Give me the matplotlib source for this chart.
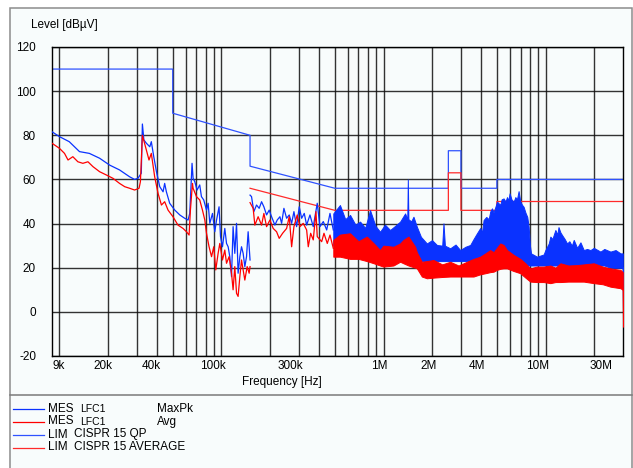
import matplotlib
matplotlib.use("Agg")
import numpy as np
import matplotlib.pyplot as plt
from matplotlib.lines import Line2D
from matplotlib.patches import Rectangle
from matplotlib.ticker import FixedLocator, NullFormatter, NullLocator

plt.rcParams['font.family'] = ['Liberation Sans', 'DejaVu Sans']
plt.rcParams['axes.unicode_minus'] = False

# ---- data (frequencies in kHz, levels in dBuV) ----
# MaxPk, range 1 (9k - 150k)
pk1_khz = [9.0, 10.0, 11.5, 13.3, 15.3, 17.7, 20.4, 23.5, 27.1, 29.1,
           30.5, 32.0, 32.5, 33.2, 34.4, 36.1, 36.9, 38.2, 39.7, 41.6,
           43.6, 44.6, 45.7, 47.9, 51.5, 55.3, 59.3, 62.2, 63.7, 65.8,
           66.8, 68.4, 70.7, 73.4, 75.2, 77.7, 80.8, 82.7, 84.7, 88.0,
           90.9, 93.2, 96.6, 98.6, 101.4, 104.8, 107.4, 109.9, 112.5, 115.3,
           117.9, 120.8, 123.8, 126.6, 129.8, 132.9, 136.0, 139.3, 142.7, 146.0,
           150.0]
pk1_db = [81.6, 79.4, 77.1, 72.6, 71.8, 69.6, 66.5, 64.3, 61.2, 60.0,
          60.5, 62.8, 85.1, 77.9, 76.4, 74.8, 77.1, 70.3, 63.5, 56.7,
          54.4, 58.2, 54.4, 49.2, 46.1, 43.9, 42.4, 41.6, 44.6, 67.3,
          60.5, 59.0, 55.2, 57.5, 52.2, 50.7, 46.1, 49.2, 40.1, 44.6,
          36.3, 41.6, 47.6, 34.1, 29.5, 37.8, 31.0, 29.5, 25.0, 16.0,
          38.6, 26.5, 40.1, 17.5, 25.0, 29.5, 26.5, 20.5, 25.0, 36.3,
          23.5]

# Avg, range 1
av1_khz = [9.0, 10.0, 10.75, 11.3, 12.1, 13.0, 13.95, 15.0, 16.1, 17.7,
           19.5, 21.4, 23.5, 25.3, 27.1, 29.1, 31.0, 31.6, 32.5, 34.4,
           35.7, 36.9, 38.7, 40.6, 42.6, 44.6, 46.8, 50.2, 53.9, 57.9,
           60.8, 63.1, 64.3, 66.2, 66.8, 70.1, 73.4, 76.3, 78.9, 80.8,
           83.8, 86.8, 89.6, 92.2, 95.3, 97.6, 101.4, 104.8, 107.4, 111.4,
           115.3, 117.9, 120.8, 123.8, 126.6, 129.8, 132.9, 136.0, 139.3, 144.0,
           148.1, 150.0]
av1_db = [76.4, 74.1, 71.8, 68.8, 70.3, 68.0, 67.3, 68.0, 65.8, 63.5,
          62.0, 60.5, 58.2, 56.7, 56.0, 55.2, 56.0, 59.0, 80.0, 73.3,
          68.8, 71.8, 61.2, 53.7, 48.4, 49.9, 46.1, 43.1, 39.3, 37.8,
          36.3, 34.8, 46.1, 58.2, 56.0, 52.2, 50.7, 46.1, 41.6, 35.6,
          29.5, 25.0, 29.5, 19.0, 26.5, 31.0, 23.5, 28.0, 22.0, 25.0,
          17.5, 10.0, 20.5, 8.4, 7.0, 16.0, 23.5, 19.0, 14.4, 20.5,
          17.5, 20.5]

# range 2 (150k - 490k), still readable as a line
pk2_khz = [150, 153.2, 158.3, 164.5, 170.8, 176.7, 182.6, 189.7, 196.9, 203.7,
           213.5, 220.6, 229.3, 234.9, 242.7, 252.2, 261.7, 270.8, 279.8, 290.7,
           301.7, 312.2, 324.0, 335.2, 351.3, 368.2, 389.7, 405.0, 424.6, 445.6,
           467.0, 489.5]
pk2_db = [52.9, 52.2, 45.4, 48.4, 46.9, 49.9, 47.6, 43.9, 46.1, 43.1,
          39.3, 41.6, 43.1, 40.1, 46.9, 42.4, 43.9, 40.1, 45.4, 38.6,
          47.6, 42.4, 44.6, 39.3, 43.9, 38.6, 49.2, 38.6, 40.9, 37.1,
          44.6, 37.1]
av2_khz = [150, 156.8, 160.6, 168.3, 176.7, 182.6, 189.7, 198.9, 208.4, 218.7,
           227.0, 238.2, 252.2, 261.7, 270.8, 279.8, 293.2, 304.7, 319.4, 335.2,
           343.0, 354.8, 368.2, 382.6, 389.7, 415.0, 428.8, 449.4, 467.0, 489.5]
av2_db = [49.5, 46.9, 39.3, 43.1, 39.3, 44.6, 38.6, 41.6, 37.8, 36.3,
          33.3, 35.6, 37.8, 43.1, 29.5, 38.6, 43.9, 38.6, 40.1, 37.1,
          29.5, 35.6, 32.6, 45.4, 34.1, 31.8, 35.6, 31.0, 34.8, 28.8]

# dense part (490k - 30M), read as upper / lower envelope
pkb_khz = [489.5, 538, 580, 621, 670, 716, 770, 825, 890, 951,
           1020, 1097, 1180, 1265, 1358, 1400, 1411, 1423, 1480, 1529,
           1604, 1700, 1849, 1990, 2133, 2300, 2342, 2390, 2576, 2780,
           2970, 3200, 3424, 3589, 3767, 3948, 4050, 4139, 4300, 4450,
           4552, 4664, 4771, 5008, 5248, 5350, 5501, 5650, 5774, 5880,
           5992, 6150, 6343, 6500, 6650, 6808, 6975, 7150, 7311, 7500,
           7700, 7851, 8000, 8123, 8847, 9718, 9956, 10450, 10690, 11000,
           11480, 11800, 12000, 12330, 12700, 13100, 13560, 14000, 14500, 14900,
           15640, 16390, 17180, 18000, 18890, 19810, 21780, 23000, 25110, 27000,
           28950, 29900, 30000]
pkb_hi = [44.6, 48.4, 42.0, 43.9, 39.5, 40.9, 38.0, 46.1, 39.0, 36.3,
          39.5, 37.1, 39.0, 40.9, 44.6, 42.0, 60.0, 42.0, 41.0, 43.1,
          38.6, 34.0, 31.0, 32.5, 30.3, 30.0, 40.1, 30.0, 28.8, 30.5,
          28.0, 29.5, 30.3, 33.0, 35.6, 38.0, 36.0, 41.6, 43.0, 42.0,
          45.5, 46.9, 45.0, 49.9, 48.5, 51.0, 51.4, 50.0, 52.0, 50.5,
          53.7, 51.0, 49.9, 52.0, 51.0, 54.7, 50.0, 48.5, 47.6, 45.0,
          43.0, 38.6, 30.0, 26.5, 25.0, 26.0, 28.0, 31.0, 34.1, 33.0,
          37.1, 35.0, 38.4, 36.0, 34.5, 33.0, 31.0, 32.0, 30.0, 32.6,
          29.0, 31.5, 28.0, 28.5, 28.0, 29.0, 27.3, 28.5, 27.3, 28.0,
          26.5, 26.5, -0.7]
pkb_lo = [30, 31, 31, 30, 30, 29, 29, 29, 28, 27,
          27, 27, 27, 27, 27, 26, 26, 26, 25, 24,
          24, 23, 23, 23, 23, 23, 23, 23, 23, 23,
          23, 23, 23, 24, 24, 24, 24, 24, 24, 25,
          25, 25, 25, 26, 26, 25, 25, 25, 25, 25,
          25, 24, 24, 24, 23, 23, 23, 22, 22, 22,
          21, 21, 21, 21, 21, 21, 21, 21, 21, 21,
          21, 21, 21, 21, 21, 21, 21, 21, 21, 21,
          21, 21, 21, 21, 21, 21, 21, 21, 20, 20,
          20, 20, -0.7]
avb_khz = [489.5, 538, 621, 700, 788, 870, 951, 997, 1150, 1265,
           1326, 1423, 1566, 1604, 1722, 1849, 2032, 2300, 2576, 2900,
           3268, 3589, 3948, 4250, 4552, 4771, 5000, 5248, 5501, 5774,
           6343, 6975, 7500, 8043, 8800, 9718, 10690, 11500, 12330, 13800,
           15640, 17180, 19810, 22500, 25110, 28950, 29900, 30000]
avb_hi = [32.6, 35.0, 35.6, 32.0, 34.1, 31.0, 28.0, 30.0, 29.5, 31.0,
          32.6, 34.1, 29.5, 27.0, 22.7, 23.0, 23.5, 21.5, 22.7, 21.0,
          22.7, 24.0, 25.0, 26.5, 28.0, 27.0, 29.0, 31.0, 30.3, 28.0,
          25.8, 24.0, 22.0, 19.7, 20.5, 20.5, 21.0, 20.0, 22.0, 21.0,
          21.2, 21.5, 22.0, 20.5, 19.7, 19.0, 18.0, -6.7]
avb_lo = [25, 25, 24, 24, 23, 22, 21, 20.5, 21, 22.7,
          22, 21, 20, 19.7, 16, 15.2, 15.5, 15.8, 16.0, 16,
          16, 16, 17, 17.5, 18, 18.2, 19, 19.5, 19.7, 19.7,
          18.5, 17.5, 15.5, 13.7, 13.5, 13.5, 13, 13.5, 13.5, 13.7,
          13.7, 13.7, 13, 12.5, 11.4, 10.7, 10, -6.7]

# limit lines CISPR 15
qp_khz = [9, 50, 50, 150, 150, 500, 2510, 2510, 3000, 3000, 5000, 5000, 30000]
qp_db = [110, 110, 90, 80, 66, 56, 56, 73, 73, 56, 56, 60, 60]
avl_khz = [150, 500, 2510, 2510, 3000, 3000, 5000, 5000, 30000]
avl_db = [56, 46, 46, 63, 63, 46, 46, 50, 50]

xtick_khz = [9, 20, 40, 100, 300, 1000, 2000, 4000, 10000, 30000]
xtick_lbl = ['9k', '20k', '40k', '100k', '300k', '1M', '2M', '4M', '10M', '30M']

BLUE = '#0a32ff'
RED = '#ff0000'
LBLUE = '#2f52ff'
LRED = '#ff2a2a'
BG = '#f8fcfc'
GRID = '#101010'

W, H = 633, 468
def fx(px):
    return px / W
def fy(py):
    return 1 - py / H

fig = plt.figure(figsize=(6.33, 4.68), dpi=100, facecolor='white')
fig.add_artist(Rectangle((fx(10), fy(480)), fx(632) - fx(10), fy(8) - fy(480),
                         transform=fig.transFigure, facecolor=BG,
                         edgecolor='#8c8c8c', lw=1.1, zorder=-5))
fig.add_artist(Line2D([fx(10), fx(632)], [fy(395), fy(395)],
                      transform=fig.transFigure, color='#7a7a7a', lw=1.1))

ax = fig.add_axes([fx(52), fy(356), fx(623) - fx(52), fy(47) - fy(356)])
ax.set_facecolor(BG)
ax.set_xscale('log')
ax.set_xlim(9e3, 30e6)
ax.set_ylim(-20, 120)

# grid
grid_f = [m * 10 ** e for e in (4, 5, 6, 7) for m in range(1, 10) if 9e3 < m * 10 ** e < 30e6]
ax.xaxis.set_major_locator(FixedLocator(grid_f))
ax.xaxis.set_major_formatter(NullFormatter())
ax.xaxis.set_minor_locator(NullLocator())
ax.set_yticks(range(-20, 121, 20))
ax.tick_params(axis='both', length=0, labelsize=8.5)
ax.tick_params(axis='y', pad=11.5)
ax.grid(True, color=GRID, lw=1.0, alpha=0.85, zorder=1)
ax.set_axisbelow(True)
for s in ax.spines.values():
    s.set_color('black')
    s.set_linewidth(1.0)

for f, lbl in zip(xtick_khz, xtick_lbl):
    if lbl == '9k':
        ha, dx = 'left', 0
    elif lbl == '30M':
        ha, dx = 'right', -10
    else:
        ha, dx = 'right', 4
    ax.annotate(lbl, xy=(f * 1e3, 0), xycoords=('data', 'axes fraction'),
                xytext=(dx, -10), textcoords='offset pixels', ha=ha, va='center',
                fontsize=8.5, annotation_clip=False)

# limits
ax.plot(np.array(qp_khz) * 1e3, qp_db, color=LBLUE, lw=0.9, zorder=2)
ax.plot(np.array(avl_khz) * 1e3, avl_db, color=LRED, lw=0.9, zorder=2)

# measurement, MaxPk
ax.plot(np.array(pk1_khz) * 1e3, pk1_db, color=BLUE, lw=0.9, zorder=3)
ax.plot(np.array(pk2_khz) * 1e3, pk2_db, color=BLUE, lw=0.9, zorder=3)
ax.fill_between(np.array(pkb_khz) * 1e3, pkb_lo, pkb_hi, color=BLUE, lw=0.7, zorder=3)
# measurement, Avg
ax.plot(np.array(av1_khz) * 1e3, av1_db, color=RED, lw=0.9, zorder=4)
ax.plot(np.array(av2_khz) * 1e3, av2_db, color=RED, lw=0.9, zorder=4)
ax.fill_between(np.array(avb_khz) * 1e3, avb_lo, avb_hi, color=RED, lw=0.7, zorder=4)

# axis titles
fig.text(fx(31), fy(25), 'Level [dB\u00b5V]', fontsize=8.5, ha='left', va='center')
fig.text(fx(282), fy(382), 'Frequency [Hz]', fontsize=8.5, ha='center', va='center')

# legend block
rows = [(BLUE, 'MES', 'LFC1', 'MaxPk'),
        (RED, 'MES', 'LFC1', 'Avg'),
        (LBLUE, 'LIM', 'CISPR 15 QP', ''),
        (LRED, 'LIM', 'CISPR 15 AVERAGE', '')]
row_y = [408.5, 421.5, 434.5, 447.5]
for (c, a, b, d), yy in zip(rows, row_y):
    fig.add_artist(Line2D([fx(13), fx(44)], [fy(yy), fy(yy)],
                          transform=fig.transFigure, color=c, lw=0.9))
    fig.text(fx(47.5), fy(yy), a, fontsize=8.5, ha='left', va='center')
    if a == 'MES':
        fig.text(fx(80.5), fy(yy + 0.5), b, fontsize=7.5, ha='left', va='center')
        fig.text(fx(156.5), fy(yy), d, fontsize=8.5, ha='left', va='center')
    else:
        fig.text(fx(74), fy(yy), b, fontsize=8.5, ha='left', va='center')

fig.savefig('out.png', dpi=100, facecolor='white')
